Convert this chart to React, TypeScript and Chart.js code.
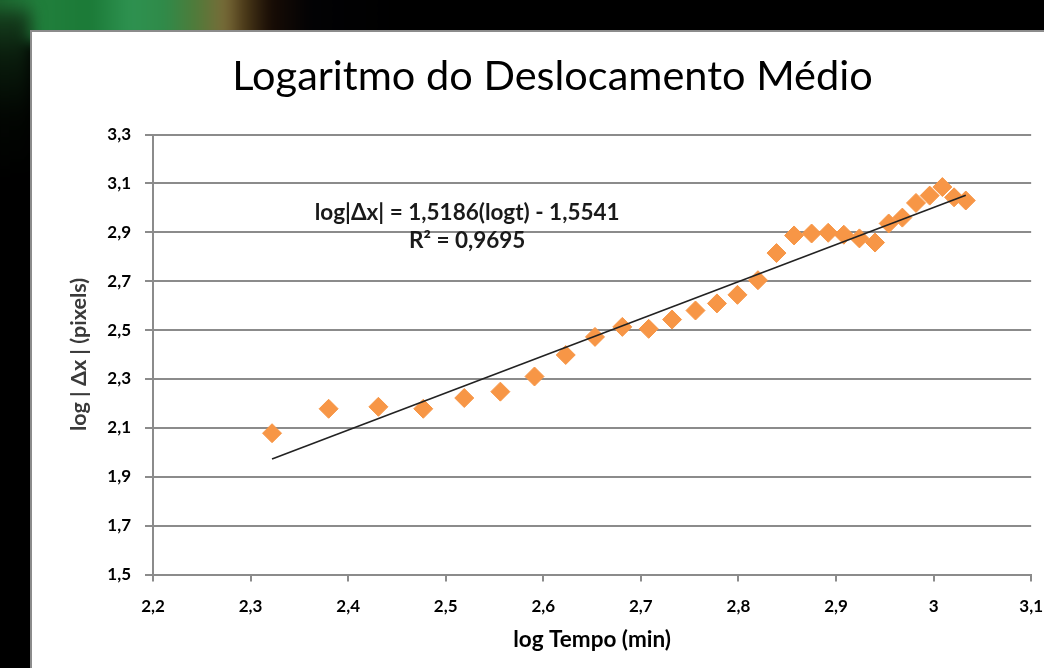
import React, { useEffect, useRef } from "react";
import { Chart, registerables } from "chart.js";

Chart.register(...registerables);

// log10 of elapsed time (min) and log10 of mean displacement (pixels)
const logTime = [
  2.322, 2.380, 2.431, 2.477, 2.519, 2.556, 2.591, 2.623, 2.653, 2.681,
  2.708, 2.732, 2.756, 2.778, 2.799, 2.820, 2.839, 2.857, 2.875, 2.892,
  2.908, 2.924, 2.940, 2.954, 2.968, 2.982, 2.996, 3.009, 3.021, 3.033,
];
const logDisplacement = [
  2.078, 2.178, 2.186, 2.178, 2.222, 2.248, 2.310, 2.398, 2.472, 2.513,
  2.505, 2.543, 2.580, 2.609, 2.644, 2.704, 2.815, 2.887, 2.895, 2.898,
  2.890, 2.875, 2.858, 2.936, 2.960, 3.020, 3.050, 3.085, 3.043, 3.030,
];

// Linear trendline fitted to the points
const TREND_SLOPE = 1.5186;
const TREND_INTERCEPT = -1.5541;
const TREND_R2 = 0.9695;

const xTickValues = [2.2, 2.3, 2.4, 2.5, 2.6, 2.7, 2.8, 2.9, 3.0, 3.1];
const yTickValues = [1.5, 1.7, 1.9, 2.1, 2.3, 2.5, 2.7, 2.9, 3.1, 3.3];

const TITLE = "Logaritmo do Deslocamento Médio";
const X_TITLE = "log Tempo (min)";
const Y_TITLE = "log | Δx | (pixels)";

const FONT = "Lato, 'Open Sans', sans-serif";
const GRID = "#8b8b8b";
const MARKER = "#f79646";

// Portuguese number style: decimal comma, integers without decimals
const fmtTick = (v: number) => String(Math.round(v * 10) / 10).replace(".", ",");
const fmtFixed = (v: number, d: number) => v.toFixed(d).replace(".", ",");

const EQUATION = `log|Δx| = ${fmtFixed(TREND_SLOPE, 4)}(logt) ${TREND_INTERCEPT < 0 ? "-" : "+"} ${fmtFixed(Math.abs(TREND_INTERCEPT), 4)}`;
const R2_TEXT = `R² = ${fmtFixed(TREND_R2, 4)}`;

// Title above the plot and the trendline equation inside it
const textPlugin = {
  id: "chartText",
  afterDatasetsDraw(chart: any) {
    const { ctx, chartArea, scales } = chart;
    ctx.save();
    ctx.fillStyle = "#000";
    ctx.textAlign = "center";
    ctx.textBaseline = "alphabetic";
    ctx.font = `normal 41.5px ${FONT}`;
    ctx.fillText(TITLE, chartArea.left + 399.5, chartArea.top - 44.5);

    ctx.font = `bold 22.5px ${FONT}`;
    ctx.fillStyle = "#1a1a1a";
    const ex = scales.x.getPixelForValue(2.522);
    ctx.fillText(EQUATION, ex, scales.y.getPixelForValue(2.950));
    ctx.fillText(R2_TEXT, ex, scales.y.getPixelForValue(2.834));
    ctx.restore();
  },
};

function LogChart() {
  const ref = useRef<HTMLCanvasElement | null>(null);

  useEffect(() => {
    if (!ref.current) return;
    const x0 = logTime[0];
    const x1 = logTime[logTime.length - 1];
    const points = logTime.map((x, i) => ({ x, y: logDisplacement[i] }));
    const trend = [
      { x: x0, y: TREND_SLOPE * x0 + TREND_INTERCEPT },
      { x: x1, y: TREND_SLOPE * x1 + TREND_INTERCEPT },
    ];

    const chart = new Chart(ref.current, {
      type: "scatter",
      data: {
        datasets: [
          {
            type: "line",
            data: trend,
            borderColor: "#222",
            borderWidth: 1.6,
            pointRadius: 0,
            fill: false,
            order: 0,
          } as any,
          {
            type: "scatter",
            data: points,
            pointStyle: "rectRot",
            pointRadius: 9.5,
            backgroundColor: MARKER,
            borderColor: MARKER,
            borderWidth: 1,
            order: 1,
          },
        ],
      },
      options: {
        animation: false,
        responsive: false,
        maintainAspectRatio: false,
        events: [],
        layout: { padding: { left: 0, right: 0, top: 102.5, bottom: 0 } },
        plugins: {
          legend: { display: false },
          tooltip: { enabled: false },
          title: { display: false },
        },
        scales: {
          x: {
            type: "linear",
            min: 2.2,
            max: 3.1,
            afterBuildTicks: (s: any) => {
              s.ticks = xTickValues.map((value) => ({ value }));
            },
            afterFit: (s: any) => {
              s.height = 93.5;
            },
            grid: {
              drawOnChartArea: false,
              drawTicks: true,
              tickLength: 7,
              color: GRID,
              lineWidth: 2,
            },
            border: { display: true, color: GRID, width: 2 },
            ticks: {
              autoSkip: false,
              maxRotation: 0,
              padding: 15,
              color: "#000",
              font: { family: FONT, size: 17, weight: "bold", lineHeight: 1.2 },
              callback: (v: any) => fmtTick(Number(v)),
            },
            title: {
              display: true,
              text: X_TITLE,
              color: "#000",
              font: { family: FONT, size: 22.5, weight: "bold", lineHeight: 1.2 },
              padding: { top: 0, bottom: 14.5 },
            },
          },
          y: {
            type: "linear",
            min: 1.5,
            max: 3.3,
            afterBuildTicks: (s: any) => {
              s.ticks = yTickValues.map((value) => ({ value }));
            },
            afterFit: (s: any) => {
              s.width = 121;
            },
            grid: {
              drawOnChartArea: true,
              drawTicks: true,
              tickLength: 8,
              color: GRID,
              lineWidth: 2,
            },
            border: { display: true, color: GRID, width: 2 },
            ticks: {
              autoSkip: false,
              padding: 14,
              color: "#000",
              font: { family: FONT, size: 17, weight: "bold", lineHeight: 1.2 },
              callback: (v: any) => fmtTick(Number(v)),
            },
            title: {
              display: true,
              text: Y_TITLE,
              color: "#3a3a3a",
              font: { family: FONT, size: 21.5, weight: "bold", lineHeight: 1.2 },
              padding: { top: 34, bottom: 0 },
            },
          },
        },
      } as any,
      plugins: [textPlugin],
    });

    return () => chart.destroy();
  }, []);

  // The chart runs past the right edge of the window, so the last x label is cut
  return (
    <canvas
      ref={ref}
      width={1026}
      height={636}
      style={{ position: "absolute", left: 0, top: 0, width: 1026, height: 636, display: "block" }}
    />
  );
}

export default function App() {
  return (
    <div
      style={{
        position: "fixed",
        left: 0,
        top: 0,
        width: 1044,
        height: 668,
        overflow: "hidden",
        background: "#000",
      }}
    >
      {/* dark surroundings with a soft green glow at the top-left */}
      <div
        style={{
          position: "absolute",
          left: -20,
          top: -20,
          width: 420,
          height: 62,
          background:
            "linear-gradient(90deg, #1b5a2a 0px, #217f3c 60px, #1b7a37 110px, #2e9250 150px, #2f8a49 185px, #4f7b3a 215px, #7a6b38 245px, #4a3818 265px, #180c05 290px, #020204 330px, #000 420px)",
          filter: "blur(6px)",
        }}
      />
      <div
        style={{
          position: "absolute",
          left: -20,
          top: 10,
          width: 50,
          height: 170,
          background: "linear-gradient(180deg, #174420 0px, #0a1d0d 45px, #020602 105px, #000 170px)",
          filter: "blur(8px)",
        }}
      />
      <div
        style={{
          position: "absolute",
          left: 30,
          top: 30,
          width: 1030,
          height: 650,
          boxSizing: "border-box",
          background: "#fff",
          borderLeft: "2px solid #8c8c8c",
          borderTop: "2px solid #8c8c8c",
          overflow: "hidden",
        }}
      >
        <LogChart />
      </div>
    </div>
  );
}
